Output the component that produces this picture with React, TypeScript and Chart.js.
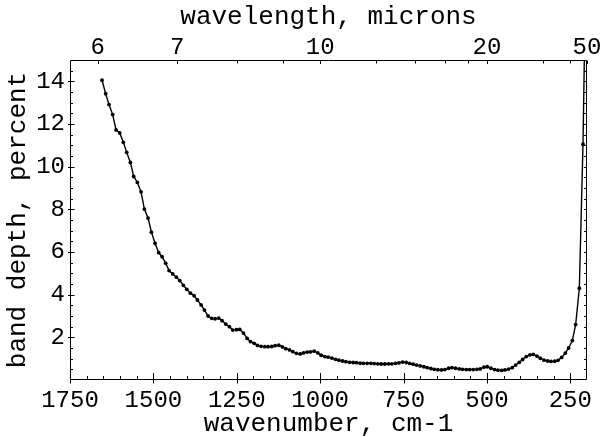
import React, { useEffect, useRef } from 'react';
import { Chart, registerables } from 'chart.js';

Chart.register(...registerables);

const wavenumber = [
  1654, 1643, 1633, 1622, 1612, 1601, 1590, 1580, 1569, 1559, 1548, 1537, 1527, 1516, 1506, 1495,
  1484, 1474, 1463, 1453, 1442, 1431, 1421, 1410, 1400, 1389, 1378, 1368, 1357, 1347, 1336, 1325,
  1315, 1304, 1294, 1283, 1272, 1262, 1251, 1241, 1230, 1219, 1209, 1198, 1188, 1177, 1166, 1156,
  1145, 1135, 1124, 1113, 1103, 1092, 1082, 1071, 1060, 1050, 1039, 1029, 1018, 1007, 997, 986,
  976, 965, 954, 944, 933, 923, 912, 901, 891, 880, 870, 859, 848, 838, 827, 817,
  806, 795, 785, 774, 764, 753, 742, 732, 721, 711, 700, 689, 679, 668, 658, 647,
  636, 626, 615, 605, 594, 583, 573, 562, 552, 541, 530, 520, 509, 499, 488, 477,
  467, 456, 446, 435, 424, 414, 403, 393, 382, 371, 361, 350, 340, 329, 318, 308,
  297, 287, 276, 265, 255, 244, 234, 223, 212, 202,
];

const bandDepth = [
  14.05, 13.42, 12.91, 12.44, 11.72, 11.58, 11.14, 10.67, 10.2, 9.54, 9.26, 8.82, 8.01, 7.59, 6.93, 6.41,
  5.97, 5.78, 5.47, 5.13, 4.97, 4.82, 4.66, 4.44, 4.25, 4.07, 3.95, 3.75, 3.52, 3.28, 3.0, 2.89,
  2.87, 2.9, 2.78, 2.62, 2.5, 2.34, 2.36, 2.37, 2.2, 1.95, 1.8, 1.72, 1.62, 1.58, 1.56, 1.56,
  1.57, 1.61, 1.63, 1.55, 1.47, 1.41, 1.33, 1.25, 1.22, 1.27, 1.31, 1.32, 1.35, 1.27, 1.16, 1.1,
  1.07, 1.03, 0.97, 0.93, 0.89, 0.86, 0.83, 0.82, 0.81, 0.79, 0.78, 0.78, 0.78, 0.77, 0.76, 0.75,
  0.75, 0.76, 0.76, 0.78, 0.8, 0.84, 0.82, 0.78, 0.74, 0.7, 0.66, 0.62, 0.58, 0.54, 0.5, 0.48,
  0.47, 0.49, 0.55, 0.58, 0.55, 0.52, 0.5, 0.49, 0.49, 0.49, 0.5, 0.52, 0.6, 0.62, 0.55, 0.49,
  0.46, 0.45, 0.47, 0.51, 0.58, 0.7, 0.83, 0.96, 1.1, 1.18, 1.2, 1.12, 1.02, 0.93, 0.89, 0.87,
  0.88, 0.92, 1.06, 1.26, 1.5, 1.85, 2.6, 4.3, 11.05, 21.0,
];

const bottomMajorTicks = [1750, 1500, 1250, 1000, 750, 500, 250];
const bottomMinorTicks = [
  1700, 1650, 1600, 1550, 1450, 1400, 1350, 1300, 1200, 1150, 1100, 1050,
  950, 900, 850, 800, 700, 650, 600, 550, 450, 400, 350, 300,
];
const topMajorMicrons = [6, 7, 10, 20, 50];
const topMinorMicrons = [8, 9, 12, 14, 16, 18, 30, 40];
const leftMajorTicks = [2, 4, 6, 8, 10, 12, 14];
const leftMinorTicks = [
  0.5, 1, 1.5, 2.5, 3, 3.5, 4.5, 5, 5.5, 6.5, 7, 7.5, 8.5, 9, 9.5, 10.5, 11, 11.5, 12.5, 13, 13.5, 14.5,
];

const FONT = "'Liberation Mono', 'Courier New', monospace";

const frameTicks = {
  id: 'frameTicks',
  afterDraw(chart: any) {
    const { ctx, chartArea: a, scales } = chart;
    const xs = scales.x;
    const ys = scales.y;
    const L = Math.round(a.left) + 0.5;
    const R = Math.round(a.right) - 0.5;
    const T = Math.round(a.top) + 0.5;
    const B = Math.round(a.bottom) - 0.5;
    ctx.save();
    ctx.strokeStyle = '#000';
    ctx.lineWidth = 1;
    ctx.beginPath();
    ctx.rect(L, T, R - L, B - T);
    const seg = (x1: number, y1: number, x2: number, y2: number) => {
      ctx.moveTo(x1, y1);
      ctx.lineTo(x2, y2);
    };
    const px = (v: number) => Math.round(xs.getPixelForValue(v)) + 0.5;
    const py = (v: number) => Math.round(ys.getPixelForValue(v)) + 0.5;
    bottomMajorTicks.forEach((v) => seg(px(v), B - 6.5, px(v), B + 4));
    bottomMinorTicks.forEach((v) => seg(px(v), B - 3.5, px(v), B));
    topMajorMicrons.forEach((m) => seg(px(10000 / m), T, px(10000 / m), T + 3.5));
    topMinorMicrons.forEach((m) => seg(px(10000 / m), T, px(10000 / m), T + 3));
    leftMajorTicks.forEach((v) => seg(L - 2.5, py(v), L + 4, py(v)));
    leftMinorTicks.forEach((v) => seg(L, py(v), L + 2.5, py(v)));
    [...leftMajorTicks, ...leftMinorTicks].forEach((v) => seg(R, py(v), R - 2.5, py(v)));
    ctx.stroke();
    ctx.restore();
  },
};

export default function App() {
  const canvasRef = useRef<HTMLCanvasElement | null>(null);

  useEffect(() => {
    if (!canvasRef.current) return;
    const tickFont = { family: FONT, size: 24 };
    const titleFont = { family: FONT, size: 26 };
    const chart = new Chart(canvasRef.current, {
      type: 'scatter',
      data: {
        datasets: [
          {
            data: wavenumber.map((w, i) => ({ x: w, y: bandDepth[i] })),
            showLine: true,
            borderColor: '#000',
            borderWidth: 1.4,
            pointRadius: 1.9,
            pointBackgroundColor: '#000',
            pointBorderWidth: 0,
            pointBorderColor: '#000',
            tension: 0,
          },
        ],
      },
      options: {
        responsive: false,
        animation: false,
        layout: { padding: { left: 0, right: 16, top: 0, bottom: 0 } },
        plugins: { legend: { display: false }, tooltip: { enabled: false } },
        scales: {
          x: {
            type: 'linear',
            position: 'bottom',
            reverse: true,
            min: 200,
            max: 1750,
            grid: { display: false, drawTicks: false },
            border: { display: false },
            afterBuildTicks: (s: any) => {
              s.ticks = bottomMajorTicks.map((v) => ({ value: v }));
            },
            ticks: {
              font: tickFont,
              color: '#000',
              padding: 6,
              maxRotation: 0,
              autoSkip: false,
              callback: (v: any) => String(v),
            },
            title: {
              display: true,
              text: 'wavenumber, cm-1',
              font: titleFont,
              color: '#000',
              padding: { top: 0, bottom: -3 },
            },
            afterFit: (s: any) => {
              s.height = 57;
              s.paddingLeft = 0;
              s.paddingRight = 0;
            },
          },
          x2: {
            type: 'linear',
            position: 'top',
            reverse: true,
            min: 200,
            max: 1750,
            grid: { display: false, drawTicks: false },
            border: { display: false },
            afterBuildTicks: (s: any) => {
              s.ticks = topMajorMicrons.map((m) => ({ value: 10000 / m }));
            },
            ticks: {
              font: tickFont,
              color: '#000',
              padding: -2,
              maxRotation: 0,
              autoSkip: false,
              callback: (v: any) => String(Math.round(10000 / Number(v))),
            },
            title: {
              display: true,
              text: 'wavelength, microns',
              font: titleFont,
              color: '#000',
              padding: { top: 2, bottom: 0 },
            },
            afterFit: (s: any) => {
              s.height = 60;
              s.paddingLeft = 0;
              s.paddingRight = 0;
            },
          },
          y: {
            type: 'linear',
            position: 'left',
            min: 0,
            max: 15,
            grid: { display: false, drawTicks: false },
            border: { display: false },
            afterBuildTicks: (s: any) => {
              s.ticks = leftMajorTicks.map((v) => ({ value: v }));
            },
            ticks: {
              font: tickFont,
              color: '#000',
              padding: 5,
              autoSkip: false,
              callback: (v: any) => String(v),
            },
            title: {
              display: true,
              text: 'band depth, percent',
              font: titleFont,
              color: '#000',
              padding: { top: 3, bottom: 0 },
            },
            afterFit: (s: any) => {
              s.width = 70;
            },
          },
        },
      },
      plugins: [frameTicks],
    } as any);
    return () => chart.destroy();
  }, []);

  return (
    <div style={{ position: 'absolute', left: 0, top: 0, width: 603, height: 437, background: '#fff' }}>
      <canvas ref={canvasRef} width={603} height={437} style={{ display: 'block' }} />
    </div>
  );
}
